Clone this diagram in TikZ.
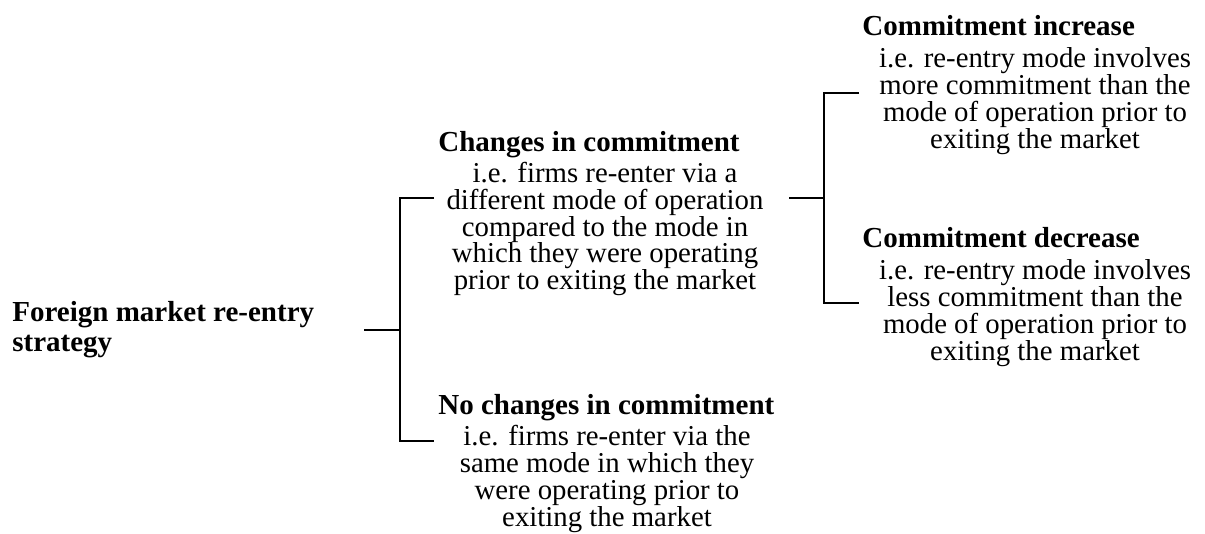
\documentclass[tikz,border=0pt]{standalone}
\usepackage{fontspec}
\setmainfont{Liberation Serif}
\tikzset{
	root/.style={font=\fontsize{14.5}{15}\selectfont\bfseries, align=left, anchor=west, inner sep=0pt},
	head/.style={font=\fontsize{14.5}{15}\selectfont\bfseries, anchor=base west, inner sep=0pt},
	body/.style={font=\fontsize{14.4}{13.4}\selectfont, align=center, inner sep=0pt},
	brack/.style={line width=0.7pt}
}
\begin{document}
\begin{tikzpicture}[x=0.5pt,y=-0.5pt]
		\useasboundingbox (0,0) rectangle (1205,534);
		\node[root] (R) at (12,330) {Foreign market re-entry\\strategy};
		
		\node[head] (H1) at (438,152) {Changes in commitment};
		\node[body] (B1) at (605,229) {i.e. firms re-enter via a\\different mode of operation\\compared to the mode in\\which they were operating\\prior to exiting the market};
		\node[head] (H2) at (438,414) {No changes in commitment};
		\node[body] (B2) at (607,479) {i.e. firms re-enter via the\\same mode in which they\\were operating prior to\\exiting the market};
		
		\node[head] (H3) at (862,36) {Commitment increase};
		\node[body] (B3) at (1035,101) {i.e. re-entry mode involves\\more commitment than the\\mode of operation prior to\\exiting the market};
		\node[head] (H4) at (862,248) {Commitment decrease};
		\node[body] (B4) at (1035,313) {i.e. re-entry mode involves\\less commitment than the\\mode of operation prior to\\exiting the market};
		
		\coordinate (S1) at (364,330);
		\coordinate (J1) at (400,330);
		\coordinate (T1) at (434,198);
		\coordinate (U1) at (434,441);
		\coordinate (S2) at (789,198);
		\coordinate (J2) at (824,198);
		\coordinate (T2) at (859,93);
		\coordinate (U2) at (859,303);
		
		\draw[brack] (S1) -- (J1);
		\draw[brack] (T1) -| (J1) |- (U1);
		\draw[brack] (S2) -- (J2);
		\draw[brack] (T2) -| (J2) |- (U2);
	\end{tikzpicture}
\end{document}
